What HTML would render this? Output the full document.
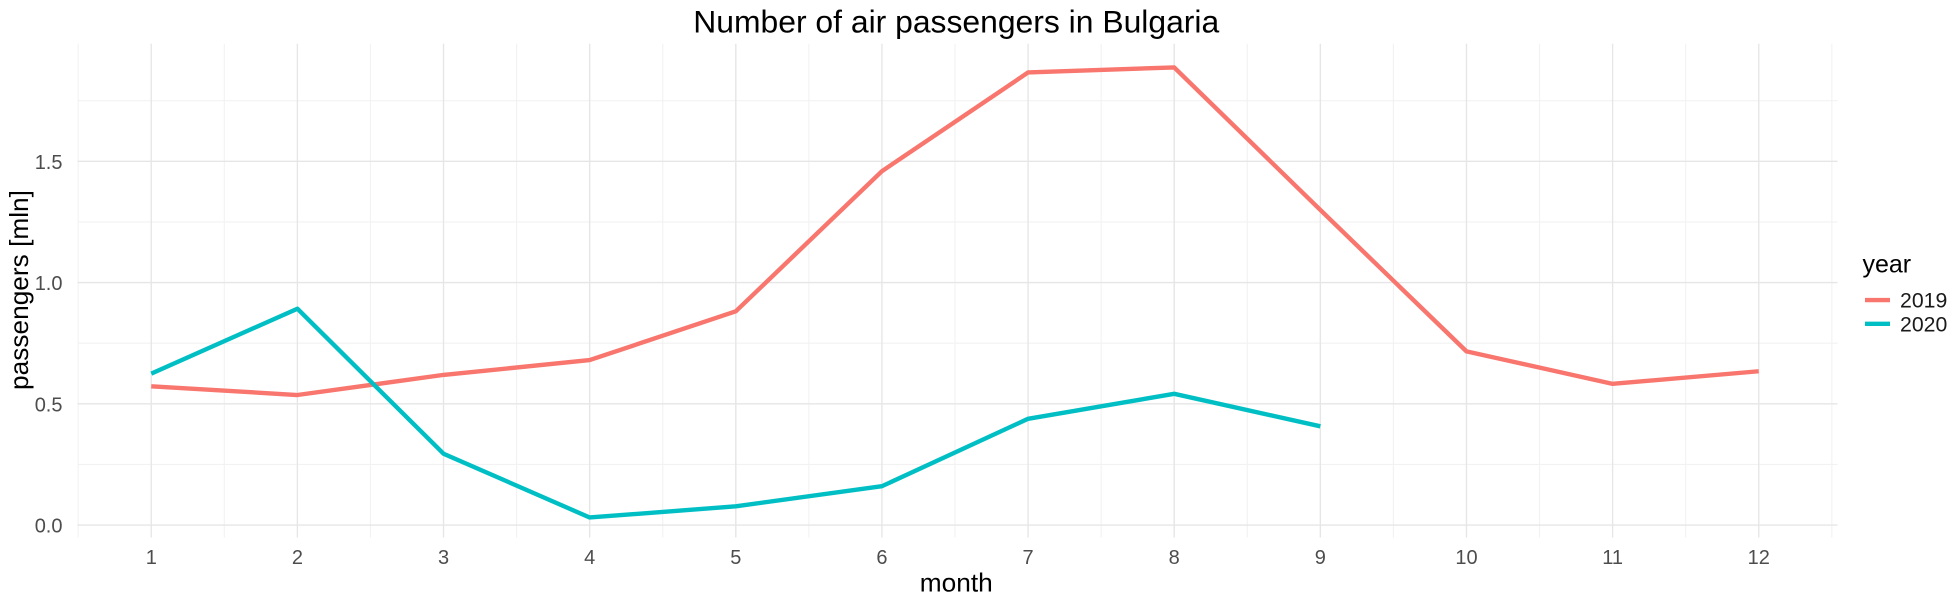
<!DOCTYPE html>
<html><head><meta charset="utf-8"><style>
body{margin:0;background:#fff;}
svg text{font-family:"Liberation Sans",sans-serif;}
</style></head><body>
<svg id="chart" width="1952" height="600" viewBox="0 0 1561.6 480" xmlns="http://www.w3.org/2000/svg">
<rect width="1561.6" height="480" fill="#fff"/>
<g id="grid"></g>
<g id="series"></g>
<g id="labels"></g>
<text x="765" y="26" font-size="25.5" text-anchor="middle" fill="#000">Number of air passengers in Bulgaria</text>
<text x="765" y="473" font-size="21" text-anchor="middle" fill="#000">month</text>
<text transform="translate(17,232) rotate(-90)" font-size="21" text-anchor="middle" dominant-baseline="middle" fill="#000">passengers [mln]</text>
<g>
<text x="1490" y="218" font-size="20" fill="#000">year</text>
<line x1="1492" y1="240" x2="1512" y2="240" stroke="#F8766D" stroke-width="3.5"/>
<text x="1520" y="246" font-size="17" fill="#1a1a1a">2019</text>
<line x1="1492" y1="259" x2="1512" y2="259" stroke="#00BFC4" stroke-width="3.5"/>
<text x="1520" y="265" font-size="17" fill="#1a1a1a">2020</text>
</g>
</svg>
<script>
const months=[1,2,3,4,5,6,7,8,9,10,11,12];
const values2019=[0.572,0.536,0.619,0.68,0.881,1.459,1.866,1.887,1.299,0.716,0.582,0.634];
const values2020=[0.624,0.892,0.294,0.031,0.077,0.16,0.438,0.541,0.407];
const yTicks=[0,0.5,1.0,1.5];
const yTickLabels=["0.0","0.5","1.0","1.5"];
const NS="http://www.w3.org/2000/svg";
const xs=m=>121+(m-1)*(1407-121)/11;
const ys=v=>420-v*194;
const pTop=35,pBottom=430,pLeft=62,pRight=1470;
const grid=document.getElementById('grid'),series=document.getElementById('series'),labels=document.getElementById('labels');
function mk(tag,attrs,parent){const e=document.createElementNS(NS,tag);for(const k in attrs)e.setAttribute(k,attrs[k]);parent.appendChild(e);return e;}
for(let v=0.25;v<2;v+=0.5){const l=mk('line',{x1:pLeft,x2:pRight,y1:ys(v),y2:ys(v),stroke:'#f2f2f2','stroke-width':0.9},grid);

}
for(let m=0.5;m<=12.5;m+=1){const l=mk('line',{x1:xs(m),x2:xs(m),y1:pTop,y2:pBottom,stroke:'#f2f2f2','stroke-width':0.9},grid);

}
yTicks.forEach((v,i)=>{const l=mk('line',{x1:pLeft,x2:pRight,y1:ys(v),y2:ys(v),stroke:'#e6e6e6','stroke-width':1.1},grid);


const t=mk('text',{x:50,y:ys(v)+6,'font-size':16,'text-anchor':'end',fill:'#4d4d4d'},labels);t.textContent=yTickLabels[i];

});
months.forEach(m=>{const l=mk('line',{x1:xs(m),x2:xs(m),y1:pTop,y2:pBottom,stroke:'#e6e6e6','stroke-width':1.1},grid);


const t=mk('text',{x:xs(m),y:451,'font-size':16,'text-anchor':'middle',fill:'#4d4d4d'},labels);t.textContent=m;

});
function drawLine(vals,color,name){const p=mk('polyline',{points:vals.map((v,i)=>xs(months[i])+','+ys(v)).join(' '),fill:'none',stroke:color,'stroke-width':3.5,'stroke-linejoin':'round'},series);

}
drawLine(values2019,'#F8766D','line-2019');
drawLine(values2020,'#00BFC4','line-2020');
</script>
</body></html>
